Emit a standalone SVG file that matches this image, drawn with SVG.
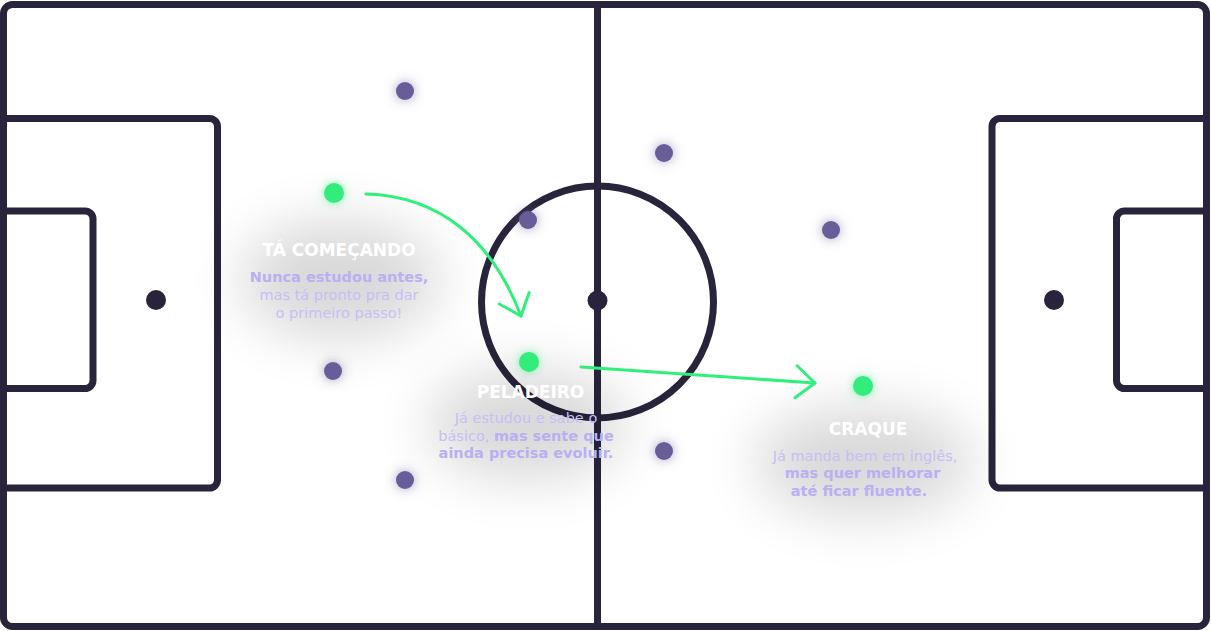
<svg xmlns="http://www.w3.org/2000/svg" width="1211" height="631" viewBox="0 0 1211 631">
<style>
.ln{fill:none;stroke:#29243b;stroke-width:7;stroke-linejoin:round}
.spot{fill:#29243b}
.pd{fill:#675d98;filter:url(#pglow)}
.gd{fill:#33ec7b;filter:url(#gglow)}
.conn{fill:none;stroke:#2ef07a;stroke-width:3;stroke-linecap:round}
.ttl{font-family:"DejaVu Sans","Liberation Sans",sans-serif;font-weight:bold;font-size:17px;fill:#ffffff;text-anchor:middle}
.body{font-family:"DejaVu Sans","Liberation Sans",sans-serif;font-size:14.5px;fill:#c6bff5;text-anchor:middle}
.b{font-weight:bold;fill:#b9b0f1}
.halo{fill:#000;opacity:0.15;filter:url(#blur)}
</style>
<defs>
<filter id="blur" x="-60%" y="-60%" width="220%" height="220%"><feGaussianBlur stdDeviation="28"/></filter>
<filter id="pglow" x="-150%" y="-150%" width="400%" height="400%"><feDropShadow dx="0" dy="0" stdDeviation="6" flood-color="#675d98" flood-opacity="0.6"/></filter>
<filter id="gglow" x="-150%" y="-150%" width="400%" height="400%"><feDropShadow dx="0" dy="0" stdDeviation="5" flood-color="#33ec7b" flood-opacity="0.6"/></filter>
<marker id="arr" markerUnits="userSpaceOnUse" viewBox="-24 -20 28 40" markerWidth="28" markerHeight="40" refX="0" refY="0" orient="auto" overflow="visible">
<path d="M -19 -16 L 0 0 L -19 16" fill="none" stroke="#2ef07a" stroke-width="3" stroke-linecap="round" stroke-linejoin="round"/>
</marker>
</defs>
<rect width="1211" height="631" fill="#ffffff"/>
<g id="field">
<rect class="ln" x="3.5" y="4.5" width="1203" height="622" rx="9"/>
<line class="ln" x1="597.5" y1="4.5" x2="597.5" y2="626.5"/>
<circle class="ln" cx="597.5" cy="302" r="116"/>
<circle class="spot" cx="597.5" cy="300.5" r="10"/>
<path class="ln" d="M3.5 118.5 H209.5 A8 8 0 0 1 217.5 126.5 V480 A8 8 0 0 1 209.5 488 H3.5"/>
<path class="ln" d="M3.5 211 H85 A8 8 0 0 1 93 219 V380.5 A8 8 0 0 1 85 388.5 H3.5"/>
<circle class="spot" cx="156" cy="300" r="10"/>
<path class="ln" d="M1206.5 118.5 H1000 A8 8 0 0 0 992 126.5 V480 A8 8 0 0 0 1000 488 H1206.5"/>
<path class="ln" d="M1206.5 211 H1124.5 A8 8 0 0 0 1116.5 219 V380.5 A8 8 0 0 0 1124.5 388.5 H1206.5"/>
<circle class="spot" cx="1054" cy="300" r="10"/>
</g>
<g id="halos">
<ellipse class="halo" cx="340" cy="280" rx="100" ry="60"/>
<ellipse class="halo" cx="527" cy="425" rx="100" ry="55"/>
<ellipse class="halo" cx="864" cy="462" rx="110" ry="55"/>
</g>
<g id="connectors">
<path class="conn" d="M366 194 C440 196 492 240 521 316" marker-end="url(#arr)"/>
<path class="conn" d="M581 367 L815 383" marker-end="url(#arr)"/>
</g>
<g id="p1"><circle class="pd" cx="405" cy="91" r="9"/></g>
<g id="p2"><circle class="pd" cx="528" cy="220" r="9"/></g>
<g id="p3"><circle class="pd" cx="333" cy="371" r="9"/></g>
<g id="p4"><circle class="pd" cx="405" cy="480" r="9"/></g>
<g id="p5"><circle class="pd" cx="664" cy="153" r="9"/></g>
<g id="p6"><circle class="pd" cx="831" cy="230" r="9"/></g>
<g id="p7"><circle class="pd" cx="664" cy="451" r="9"/></g>
<g id="comecando">
<circle class="gd" cx="334" cy="193" r="10"/>
<text class="ttl" x="339" y="256">TÁ COMEÇANDO</text>
<text class="body" x="339" y="282"><tspan class="b">Nunca estudou antes,</tspan></text>
<text class="body" x="339" y="300">mas tá pronto pra dar</text>
<text class="body" x="339" y="318">o primeiro passo!</text>
</g>
<g id="peladeiro">
<circle class="gd" cx="529" cy="362" r="10"/>
<text class="ttl" x="530.5" y="398">PELADEIRO</text>
<text class="body" x="526" y="423">Já estudou e sabe o</text>
<text class="body" x="526" y="441">básico, <tspan class="b">mas sente que</tspan></text>
<text class="body" x="526" y="458"><tspan class="b">ainda precisa evoluir.</tspan></text>
</g>
<g id="craque">
<circle class="gd" cx="863" cy="386" r="10"/>
<text class="ttl" x="868" y="435">CRAQUE</text>
<text class="body" x="865" y="461">Já manda bem em inglês,</text>
<text class="body" x="862.5" y="478"><tspan class="b">mas quer melhorar</tspan></text>
<text class="body" x="859" y="496"><tspan class="b">até ficar fluente.</tspan></text>
</g>
</svg>
